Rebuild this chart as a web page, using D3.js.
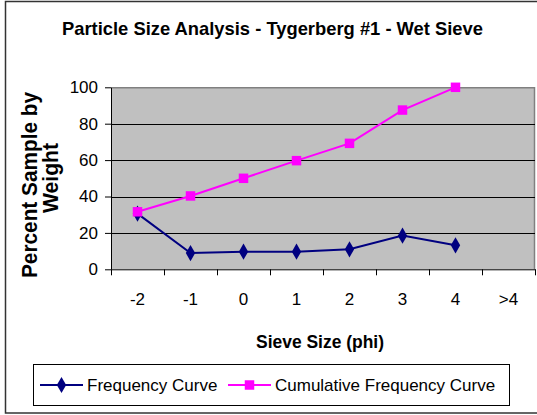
<!DOCTYPE html>
<html>
<head>
<meta charset="utf-8">
<script src="https://d3js.org/d3.v7.min.js"></script>
<style>
  html, body { margin: 0; padding: 0; background: #fff; }
  svg { display: block; }
  text { font-family: "Liberation Sans", Arial, sans-serif; }
</style>
</head>
<body>
<svg id="chart" width="537" height="415"></svg>
<script>
// Sieve classes (phi) and percentages by weight
const categories = ["-2", "-1", "0", "1", "2", "3", "4", ">4"];
const frequency = [30.6, 8.9, 9.7, 9.7, 11.0, 18.5, 13.2, null];
const cumulative = [31.6, 40.3, 50.0, 59.7, 69.2, 87.5, 100, null];
const yTicks = [0, 20, 40, 60, 80, 100];

const titleText = "Particle Size Analysis - Tygerberg #1 - Wet Sieve";
const xTitle = "Sieve Size (phi)";
const yTitleLines = ["Percent Sample by", "Weight"];
const seriesNames = ["Frequency Curve", "Cumulative Frequency Curve"];

const navy = "#000080", magenta = "#FF00FF";

const svg = d3.select("#chart");

// outer chart frame (right side runs off the canvas)
svg.append("rect")
  .attr("x", 5.5).attr("y", 1.5)
  .attr("width", 545).attr("height", 411.5)
  .attr("fill", "#fff").attr("stroke", "#333").attr("stroke-width", 1.5);

const plot = { left: 111, right: 535, top: 87.3, bottom: 269.3 };

const x = d3.scaleBand().domain(categories).range([plot.left, plot.right]);
const xEdge = d3.scaleLinear().domain([0, categories.length]).range([plot.left, plot.right]);
const y = d3.scaleLinear().domain([0, 100]).range([plot.bottom, plot.top]);

// plot area
svg.append("rect")
  .attr("x", plot.left).attr("y", plot.top)
  .attr("width", plot.right - plot.left).attr("height", plot.bottom - plot.top)
  .attr("fill", "#C0C0C0");
svg.append("path")
  .attr("d", `M${plot.left},${plot.top + 0.5}H${plot.right - 0.5}V${plot.bottom}`)
  .attr("fill", "none").attr("stroke", "#808080").attr("stroke-width", 1.5);

// gridlines
svg.append("g").selectAll("line")
  .data(yTicks.filter(v => v > 0 && v < 100))
  .join("line")
  .attr("x1", plot.left).attr("x2", plot.right)
  .attr("y1", d => Math.round(y(d)) + 0.5).attr("y2", d => Math.round(y(d)) + 0.5)
  .attr("stroke", "#000").attr("stroke-width", 1);

// y axis
const yAxis = svg.append("g")
  .attr("transform", `translate(${plot.left},0)`)
  .call(d3.axisLeft(y).tickValues(yTicks).tickSize(6).tickPadding(7).tickSizeOuter(0));
yAxis.select(".domain").attr("stroke", "#000");
yAxis.selectAll(".tick line").attr("stroke", "#000");
yAxis.selectAll("text")
  .attr("font-family", "Liberation Sans, Arial, sans-serif")
  .attr("font-size", 17).attr("fill", "#000");

// x axis: ticks on category boundaries, labels at category centres
const xTickAxis = svg.append("g")
  .attr("transform", `translate(0,${plot.bottom})`)
  .call(d3.axisBottom(xEdge).tickValues(d3.range(categories.length + 1))
    .tickSize(6).tickFormat("").tickSizeOuter(0));
xTickAxis.select(".domain").attr("stroke", "#000");
xTickAxis.selectAll(".tick line").attr("stroke", "#000");

const xLabelAxis = svg.append("g")
  .attr("transform", `translate(0,${plot.bottom})`)
  .call(d3.axisBottom(x).tickSize(0).tickPadding(24));
xLabelAxis.select(".domain").remove();
xLabelAxis.selectAll("text")
  .attr("font-family", "Liberation Sans, Arial, sans-serif")
  .attr("font-size", 17).attr("fill", "#000");

// series lines and markers
const line = d3.line()
  .defined(d => d.v != null)
  .x(d => x(d.c) + x.bandwidth() / 2)
  .y(d => y(d.v));

const freqData = categories.map((c, i) => ({ c, v: frequency[i] }));
const cumData = categories.map((c, i) => ({ c, v: cumulative[i] }));

const diamond = d3.symbol().type(d3.symbolDiamond).size(76);
const square = d3.symbol().type(d3.symbolSquare).size(90);

svg.append("path").datum(freqData)
  .attr("d", line).attr("fill", "none").attr("stroke", navy).attr("stroke-width", 2);
svg.append("g").selectAll("path")
  .data(freqData.filter(d => d.v != null))
  .join("path")
  .attr("transform", d => `translate(${x(d.c) + x.bandwidth() / 2},${y(d.v)})`)
  .attr("d", diamond)
  .attr("fill", navy);

svg.append("path").datum(cumData)
  .attr("d", line).attr("fill", "none").attr("stroke", magenta).attr("stroke-width", 2);
svg.append("g").selectAll("path")
  .data(cumData.filter(d => d.v != null))
  .join("path")
  .attr("transform", d => `translate(${x(d.c) + x.bandwidth() / 2},${y(d.v)})`)
  .attr("d", square)
  .attr("fill", magenta);

// title
svg.append("text")
  .attr("x", 62).attr("y", 35)
  .attr("font-size", 19).attr("font-weight", "bold")
  .attr("textLength", 421).attr("lengthAdjust", "spacingAndGlyphs")
  .text(titleText);

// x axis title
svg.append("text")
  .attr("x", 320).attr("y", 348)
  .attr("text-anchor", "middle")
  .attr("font-size", 18).attr("font-weight", "bold")
  .attr("textLength", 128).attr("lengthAdjust", "spacingAndGlyphs")
  .text(xTitle);

// y axis title (two rotated lines)
const yTitlePos = [{ bx: 37, cy: 185, len: 186 }, { bx: 58, cy: 178, len: 70 }];
yTitleLines.forEach((t, i) => {
  const p = yTitlePos[i];
  svg.append("text")
    .attr("transform", `translate(${p.bx},${p.cy}) rotate(-90)`)
    .attr("text-anchor", "middle")
    .attr("font-size", 21.5).attr("font-weight", "bold")
    .attr("textLength", p.len).attr("lengthAdjust", "spacingAndGlyphs")
    .text(t);
});

// legend
svg.append("rect")
  .attr("x", 33.5).attr("y", 364.5).attr("width", 476).attr("height", 41)
  .attr("fill", "#fff").attr("stroke", "#000").attr("stroke-width", 1);

const legendItems = [
  { name: seriesNames[0], color: navy, x0: 40, sym: diamond },
  { name: seriesNames[1], color: magenta, x0: 228, sym: square }
];
const ly = 385;
legendItems.forEach(it => {
  const g = svg.append("g");
  g.append("line")
    .attr("x1", it.x0).attr("x2", it.x0 + 43)
    .attr("y1", ly).attr("y2", ly)
    .attr("stroke", it.color).attr("stroke-width", 2);
  g.append("path")
    .attr("transform", `translate(${it.x0 + 21.5},${ly})`)
    .attr("d", it.sym).attr("fill", it.color);
  g.append("text")
    .attr("x", it.x0 + 47).attr("y", ly + 6)
    .attr("font-size", 17)
    .text(it.name);
});
</script>
</body>
</html>
